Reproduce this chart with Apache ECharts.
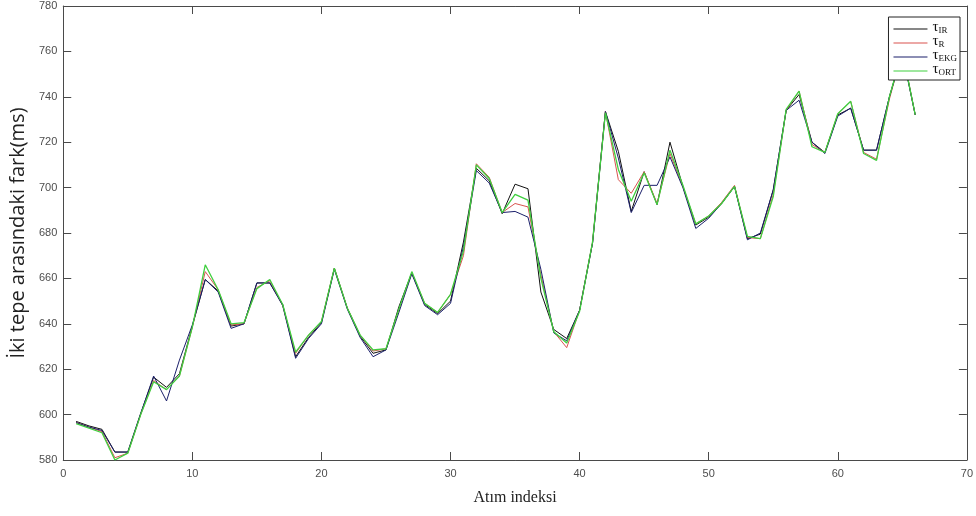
<!DOCTYPE html>
<html>
<head>
<meta charset="utf-8">
<script src="https://cdn.jsdelivr.net/npm/echarts@6/dist/echarts.min.js"></script>
<style>
  html, body { margin: 0; padding: 0; background: #fff; }
  #chart { width: 976px; height: 516px; }
</style>
</head>
<body>
<div id="chart"></div>
<script>
// Beat index (x) for each sample
const beats = [
  1,2,3,4,5,6,7,8,9,10,11,12,13,14,15,16,17,18,19,20,
  21,22,23,24,25,26,27,28,29,30,31,32,33,34,35,36,37,38,39,40,
  41,42,43,44,45,46,47,48,49,50,51,52,53,54,55,56,57,58,59,60,
  61,62,63,64,65,66
];

// Peak-to-peak interval (ms) per method
const tauIR = [
  597,595,593.5,583.5,583.5,600.5,616.5,612,618,639,659.5,654.5,639,640,658,658,648.5,625.5,634,640.5,
  664.5,647,634.5,627,628.5,647.5,662.5,648.5,644.5,650,676,708.5,703,688.5,701.5,699.5,654,637.5,633.5,646,
  675.5,733.5,716,689.5,707,692.5,720,700.5,683.5,687,693,700.5,677.5,679.5,699,734,741,720,715.5,732,
  735,716.5,716.5,740,760,732
];
const tauR = [
  596.5,594.5,592.5,581,583,600,615,611,617,638.5,663,655,639.5,640,656,659,648,627,635,641,
  664.5,647,635,628,629,646,662.5,649,645,653,670,710.5,704.5,689,693,691.5,661.5,636.5,629.5,646,
  676,733.5,703.5,697.5,707,693,715,700.5,684,687.5,693.5,701,678,677.5,697,734,742.5,719,715.5,732.5,
  738,715.5,712.5,739,760,732
];
const tauEKG = [
  596.5,594.5,593,583.5,583.5,600.5,617,606,624,639.5,659.5,654,638,640,658,658,648,624.8,633.5,640,
  664,646.5,634,625.5,628.5,645,662,648,644,649,674,707.5,702,689,689.5,687,664,636,632.5,646,
  675.5,733.5,713,689,701,701,713.5,700,682,686.5,693,700.5,677,680,699,734,738.5,720,715,731.5,
  735,716.5,716.5,740,759,732
];
const tauORT = [
  596,594,592,580,583,600,614.5,611,617,638.5,666,655,640,640.5,655.5,659.5,648.5,627.5,635,641,
  664.5,647,635,628.5,629,646.5,663,649,645,653,672,710,704,689,697,694.5,660,636.5,631.5,645.5,
  676,733,708,694,706.5,692.5,716.5,701,684,687.5,693,700.5,678.5,677.5,696,734.5,742.5,718,715.5,732.5,
  738,715,712,740,760,732
];

// Legend labels: tau with subscript method name
const methodNames = ['IR', 'R', 'EKG', 'ORT'];
const methodColors = ['#111111', '#d9534f', '#1b1f6b', '#3fcf3f'];
const methodSeries = [tauIR, tauR, tauEKG, tauORT];

const yTicks = { min: 580, max: 780, step: 20 };
const xTicks = { min: 0, max: 70, step: 10 };

const chart = echarts.init(document.getElementById('chart'), null, { renderer: 'canvas' });

const serif = 'Liberation Serif, Times New Roman, serif';
const axisLineStyle = { color: '#4a4a4a', width: 1 };
const labelStyle = { color: '#4d4d4d', fontSize: 11, fontFamily: 'Liberation Sans, Arial, sans-serif' };

const series = methodSeries.map((vals, k) => ({
  name: 'τ' + methodNames[k],
  type: 'line',
  xAxisIndex: 0,
  yAxisIndex: 0,
  symbol: 'none',
  smooth: false,
  animation: false,
  data: beats.map((b, i) => [b, vals[i]]),
  lineStyle: { color: methodColors[k], width: k === 3 ? 1.3 : 1 },
  itemStyle: { color: methodColors[k] },
  z: 2 + k
}));

chart.setOption({
  backgroundColor: '#ffffff',
  animation: false,
  grid: { left: 63, right: 9, top: 6, bottom: 56, containLabel: false },
  legend: {
    orient: 'vertical',
    right: 16,
    top: 17,
    backgroundColor: '#ffffff',
    borderColor: '#222222',
    borderWidth: 1,
    borderRadius: 0,
    padding: [3, 3, 3, 5],
    itemWidth: 34,
    itemHeight: 8,
    itemGap: -1,
    z: 10,
    formatter: function (name) {
      return '{t|τ}{s|' + name.slice(1) + '}';
    },
    textStyle: {
      color: '#111',
      fontSize: 12,
      lineHeight: 12,
      rich: {
        t: { fontFamily: serif, fontSize: 15, lineHeight: 12, color: '#111', verticalAlign: 'bottom' },
        s: { fontFamily: serif, fontSize: 9, lineHeight: 12, color: '#111', verticalAlign: 'bottom' }
      }
    },
    data: methodNames.map(n => ({ name: 'τ' + n, icon: 'path://M0,5L34,5L34,6L0,6Z' }))
  },
  xAxis: [
    {
      type: 'value', position: 'bottom',
      min: xTicks.min, max: xTicks.max, interval: xTicks.step,
      name: 'Atım indeksi', nameLocation: 'middle', nameGap: 30,
      nameTextStyle: { fontFamily: serif, fontSize: 16, color: '#222' },
      axisLine: { show: true, onZero: false, lineStyle: axisLineStyle },
      axisTick: { show: true, inside: true, length: 8, lineStyle: axisLineStyle },
      axisLabel: Object.assign({ margin: 8 }, labelStyle),
      splitLine: { show: false }
    },
    {
      type: 'value', position: 'top',
      min: xTicks.min, max: xTicks.max, interval: xTicks.step,
      axisLine: { show: true, onZero: false, lineStyle: axisLineStyle },
      axisTick: { show: true, inside: true, length: 8, lineStyle: axisLineStyle },
      axisLabel: { show: false },
      splitLine: { show: false }
    }
  ],
  yAxis: [
    {
      type: 'value', position: 'left',
      min: yTicks.min, max: yTicks.max, interval: yTicks.step,
      name: 'İki tepe arasındaki fark(ms)', nameLocation: 'middle', nameGap: 33,
      nameTextStyle: { fontFamily: 'Open Sans, Noto Sans, sans-serif', fontSize: 20, color: '#222' },
      axisLine: { show: true, onZero: false, lineStyle: axisLineStyle },
      axisTick: { show: true, inside: true, length: 8, lineStyle: axisLineStyle },
      axisLabel: Object.assign({ margin: 6 }, labelStyle),
      splitLine: { show: false }
    },
    {
      type: 'value', position: 'right',
      min: yTicks.min, max: yTicks.max, interval: yTicks.step,
      axisLine: { show: true, onZero: false, lineStyle: axisLineStyle },
      axisTick: { show: true, inside: true, length: 8, lineStyle: axisLineStyle },
      axisLabel: { show: false },
      splitLine: { show: false }
    }
  ],
  series: series
});
</script>
</body>
</html>
